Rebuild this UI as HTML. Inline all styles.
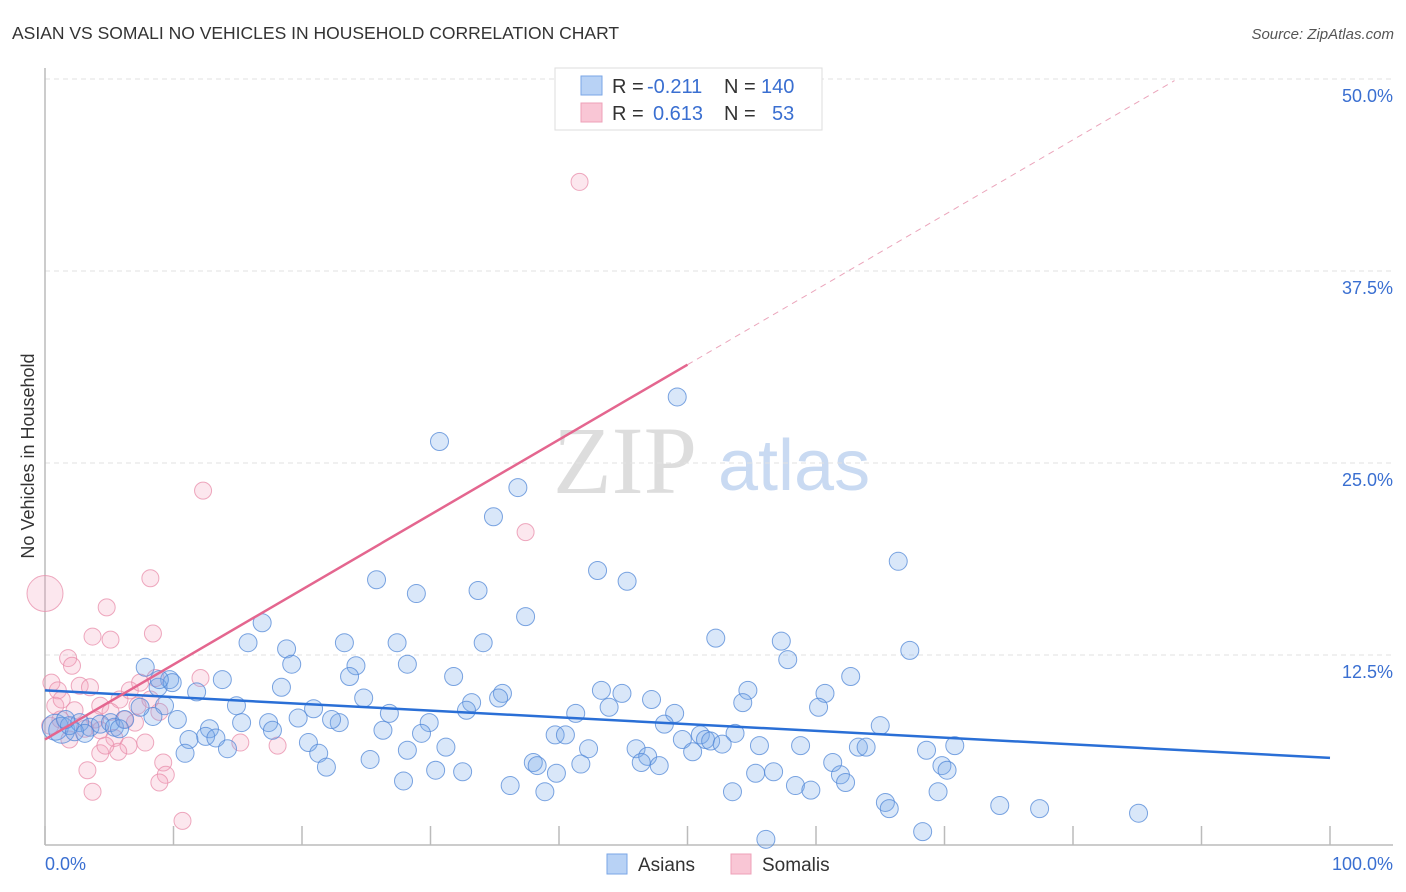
<!DOCTYPE html>
<html><head><meta charset="utf-8"><style>
body{margin:0;background:#fff;font-family:"Liberation Sans",sans-serif}
</style></head><body>
<svg id="chart" width="1406" height="892" xmlns="http://www.w3.org/2000/svg" style="display:block">
<text x="12" y="39" font-size="17.5" fill="#333">ASIAN VS SOMALI NO VEHICLES IN HOUSEHOLD CORRELATION CHART</text>
<text x="1394" y="39" font-size="15" fill="#555" text-anchor="end" font-style="italic">Source: ZipAtlas.com</text>
<g>
<text x="553" y="493" font-family="Liberation Serif,serif" font-size="96" fill="#ddd">ZIP</text>
<text x="718" y="490" font-size="72" fill="#c9daf2">atlas</text>
</g>
<g id="grid"></g>
<g id="axes"></g>
<g id="pts"></g>
<g id="trends"></g>
<text transform="translate(34,456) rotate(-90)" font-size="18" fill="#333" text-anchor="middle">No Vehicles in Household</text>
<g>
<rect x="555" y="68" width="267" height="62" fill="#fff" stroke="#ddd"/>
<rect x="581" y="76" width="21" height="19" fill="#b8d2f5" stroke="#7aa6e6"/>
<rect x="581" y="103" width="21" height="19" fill="#f9c6d5" stroke="#eea0b8"/>
<text x="612" y="93" font-size="20" fill="#333">R =</text>
<text x="647" y="93" font-size="20" fill="#3a6fd1">-0.211</text>
<text x="724" y="93" font-size="20" fill="#333">N =</text>
<text x="761" y="93" font-size="20" fill="#3a6fd1">140</text>
<text x="612" y="120" font-size="20" fill="#333">R =</text>
<text x="653" y="120" font-size="20" fill="#3a6fd1">0.613</text>
<text x="724" y="120" font-size="20" fill="#333">N =</text>
<text x="772" y="120" font-size="20" fill="#3a6fd1">53</text>
</g>
<g>
<rect x="607" y="854" width="20" height="20" fill="#b8d2f5" stroke="#7aa6e6"/>
<text x="638" y="871" font-size="19" fill="#333">Asians</text>
<rect x="731" y="854" width="20" height="20" fill="#f9c6d5" stroke="#eea0b8"/>
<text x="762" y="871" font-size="19" fill="#333">Somalis</text>
</g>
</svg>
<script>
const yTicks=[12.5,25,37.5,50];
const yTickLabels=["12.5%","25.0%","37.5%","50.0%"];
const xTicks=[0,10,20,30,40,50,60,70,80,90,100];
const asianX=[49.2,30.7,36.8,34.9,66.4,43.0,45.3,25.8,33.7,28.9,37.4,16.9,52.2,57.3,15.8,27.4,23.3,34.1,18.8,67.3,19.2,57.8,24.2,28.2,7.8,62.7,13.8,9.7,23.7,31.8,18.4,11.8,43.3,44.9,54.7,60.7,35.6,35.3,33.2,24.8,47.2,43.9,54.3,60.2,14.9,9.3,20.9,26.8,32.8,41.3,49.0,19.7,22.9,22.3,29.9,8.4,10.3,15.3,17.4,65.0,48.2,12.8,26.3,29.3,53.7,17.7,39.7,40.5,51.0,51.4,51.8,12.5,11.2,13.3,55.6,58.8,63.3,63.9,46.0,46.9,49.6,52.7,50.4,31.2,42.3,20.5,10.9,21.3,28.2,14.2,68.6,70.8,38.0,38.3,46.4,47.8,41.7,61.3,25.3,21.9,30.4,32.5,39.8,55.3,56.7,61.9,62.3,69.8,70.2,27.9,36.2,58.4,59.6,38.9,53.5,69.5,65.4,65.7,74.3,77.4,85.1,68.3,56.1,0.8,1.3,1.9,2.7,3.5,4.3,5.1,5.4,6.2,2.3,1.6,3.1,5.8,7.4,8.8,9.9,8.9];
const asianY=[29.3,26.4,23.4,21.5,18.6,18.0,17.3,17.4,16.7,16.5,15.0,14.6,13.6,13.4,13.3,13.3,13.3,13.3,12.9,12.8,11.9,12.2,11.8,11.9,11.7,11.1,10.9,10.9,11.1,11.1,10.4,10.1,10.2,10.0,10.2,10.0,10.0,9.7,9.4,9.7,9.6,9.1,9.4,9.1,9.2,9.2,9.0,8.7,8.9,8.7,8.7,8.4,8.1,8.3,8.1,8.5,8.3,8.1,8.1,7.9,8.0,7.7,7.6,7.4,7.4,7.6,7.3,7.3,7.3,7.0,6.9,7.2,7.0,7.1,6.6,6.6,6.5,6.5,6.4,5.9,7.0,6.7,6.2,6.5,6.4,6.8,6.1,6.1,6.3,6.4,6.3,6.6,5.5,5.3,5.5,5.3,5.4,5.5,5.7,5.2,5.0,4.9,4.8,4.8,4.9,4.7,4.2,5.3,5.0,4.3,4.0,4.0,3.7,3.6,3.6,3.6,2.9,2.5,2.7,2.5,2.2,1.0,0.5,7.8,7.6,7.9,8.1,7.8,8.0,8.1,7.8,8.3,7.5,8.3,7.4,7.7,9.1,10.4,10.7,10.9];
const somaliX=[41.6,12.3,37.4,8.2,4.8,8.4,3.7,5.1,1.8,2.1,0,0.5,1.0,2.7,3.5,0.8,1.3,2.3,4.3,5.8,6.6,7.4,8.6,12.1,7.2,6.2,5.1,3.9,3.1,8.2,8.9,1.9,4.3,5.4,6.5,7.8,4.3,5.7,3.3,9.2,9.4,8.9,3.7,10.7,15.2,18.1,1.2,0.4,7.0,4.7];
const somaliY=[43.3,23.2,20.5,17.5,15.6,13.9,13.7,13.5,12.3,11.8,16.5,10.7,10.2,10.5,10.4,9.2,9.6,8.9,9.2,9.6,10.2,10.7,11.0,11.0,9.2,8.3,8.8,8.3,7.7,9.6,8.8,7.0,7.6,7.1,6.6,6.8,6.1,6.2,5.0,5.5,4.7,4.2,3.6,1.7,6.8,6.6,8.3,7.9,8.1,6.6];
const asianTrend=[10.2,5.8];
const somaliTrend=[7.0,0.488];
const NS="http://www.w3.org/2000/svg";
const X=v=>45+v*12.85, Y=v=>847-v*15.36;
function mk(tag,attrs,parent){const e=document.createElementNS(NS,tag);for(const k in attrs)e.setAttribute(k,attrs[k]);document.getElementById(parent).appendChild(e);return e;}
yTicks.forEach((t,i)=>{
 const g=mk('line',{x1:45,x2:1393,y1:Y(t),y2:Y(t),stroke:'#e2e2e2','stroke-dasharray':'5,4'},'grid');
 
 
 const l=mk('text',{x:1393,y:Y(t)+23,'font-size':18,fill:'#3a6fd1','text-anchor':'end'},'grid');
 
 
 l.textContent=yTickLabels[i];
});
let ax=mk('line',{x1:45,x2:45,y1:68,y2:845,stroke:'#bbb','stroke-width':1.5},'axes');


ax=mk('line',{x1:45,x2:1393,y1:845,y2:845,stroke:'#bbb','stroke-width':1.5},'axes');


xTicks.forEach(t=>{const e=mk('line',{x1:X(t),x2:X(t),y1:826,y2:845,stroke:'#bbb','stroke-width':1.5},'axes');
 
 });
let xl=mk('text',{x:45,y:870,'font-size':18,fill:'#3a6fd1'},'axes');xl.textContent='0.0%';


xl=mk('text',{x:1393,y:870,'font-size':18,fill:'#3a6fd1','text-anchor':'end'},'axes');xl.textContent='100.0%';


somaliX.forEach((x,i)=>{const c=mk('circle',{cx:X(x),cy:Y(somaliY[i]),r:(x===0&&somaliY[i]>16)?18:8.5,fill:'rgba(244,160,188,0.25)',stroke:'rgba(232,140,170,0.75)','stroke-width':1},'pts');
 
 });
asianX.forEach((x,i)=>{const c=mk('circle',{cx:X(x),cy:Y(asianY[i]),r:(x<1.5&&asianY[i]<8)?13:9,fill:'rgba(120,170,232,0.28)',stroke:'rgba(80,135,215,0.75)','stroke-width':1},'pts');
 
 });
let tl=mk('line',{x1:X(0),y1:Y(asianTrend[0]),x2:X(100),y2:Y(asianTrend[1]),stroke:'#2a6fd6','stroke-width':2.5},'trends');


tl=mk('line',{x1:X(0),y1:Y(somaliTrend[0]),x2:X(50),y2:Y(somaliTrend[0]+somaliTrend[1]*50),stroke:'#e4668f','stroke-width':2.5},'trends');


tl=mk('line',{x1:X(50),y1:Y(somaliTrend[0]+somaliTrend[1]*50),x2:X(87.9),y2:Y(somaliTrend[0]+somaliTrend[1]*87.9),stroke:'#eba5bb','stroke-width':1,'stroke-dasharray':'6,5'},'trends');


</script>
</body></html>
